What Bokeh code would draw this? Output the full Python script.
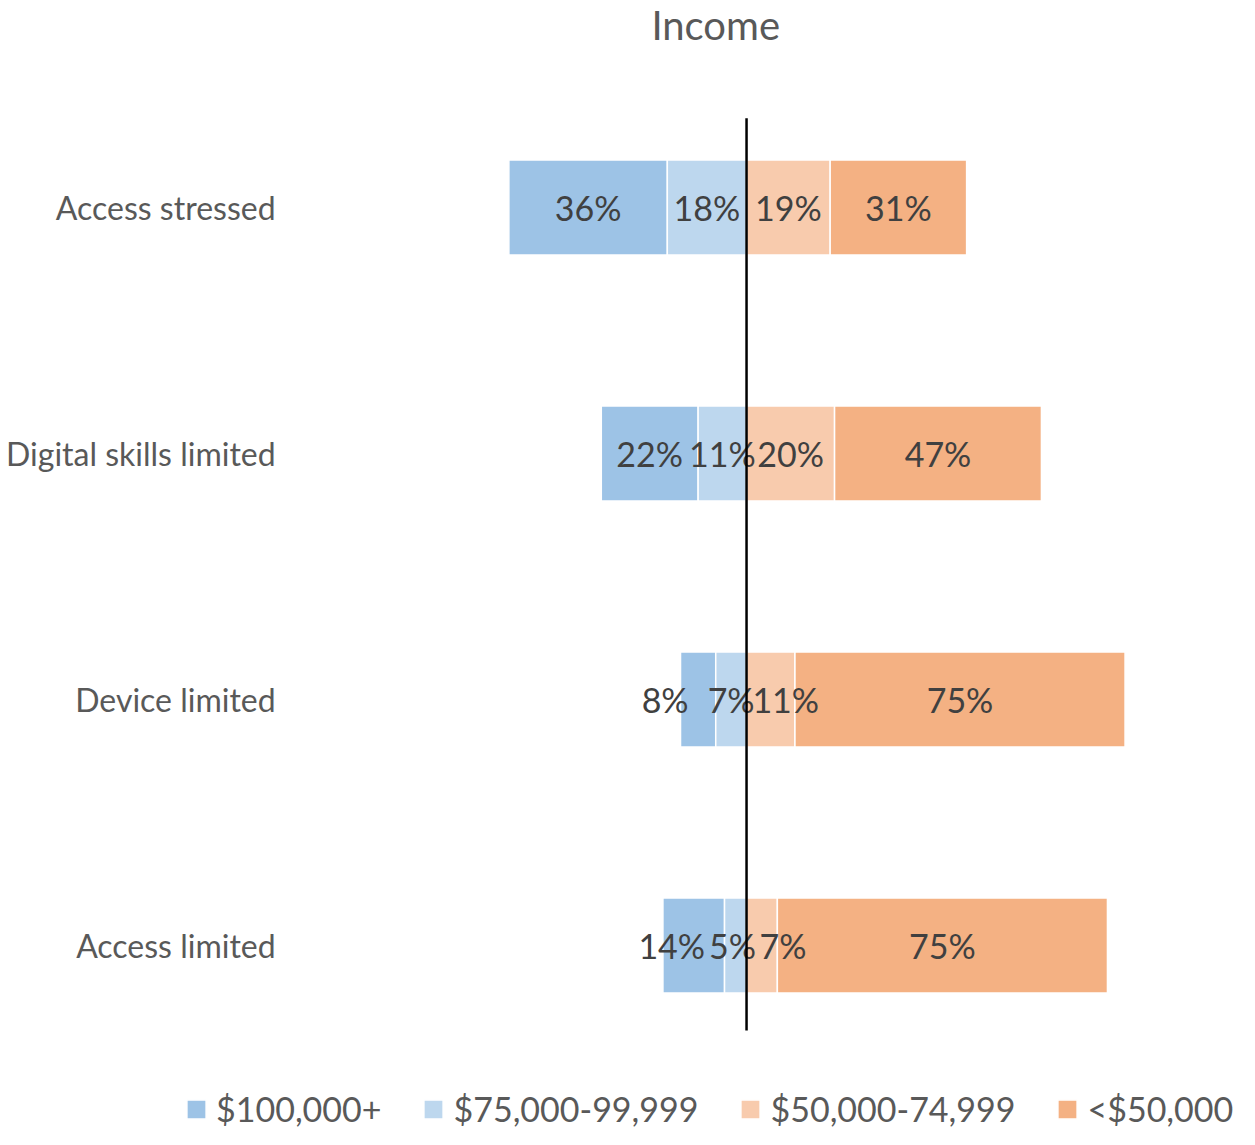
from bokeh.plotting import figure
from bokeh.models import Range1d, Label, Legend, LegendItem
from bokeh.core.properties import value
from bokeh.embed import file_html
from bokeh.resources import INLINE

# ---- data ----
categories = ["Access stressed", "Digital skills limited", "Device limited", "Access limited"]
series_names = ["$100,000+", "$75,000-99,999", "$50,000-74,999", "<$50,000"]
inc_100k_plus = [36, 22, 8, 14]
inc_75k_99k = [18, 11, 7, 5]
inc_50k_74k = [19, 20, 11, 7]
inc_under_50k = [31, 47, 75, 75]
chart_title = "Income"

# ---- style / layout ----
colors = ["#9DC3E6", "#BDD7EE", "#F8CBAD", "#F4B183"]
label_nudge_px = [[0, 0, -33, -22], [0, 0, 0, -3], [0, 0, 15, 21], [0, 0, 0, 0]]
FONT = "Lato"
CAT_LABEL_X = -107      # right edge of category labels (in % units)
TITLE_X, TITLE_Y = -7, 3.74
LINE_PAD_BOTTOM, LINE_PAD_TOP = 0.346, 0.362

n = len(categories)
ypos = [n - 1 - i for i in range(n)]

p = figure(width=1239, height=1129, output_backend="svg", toolbar_location=None,
           x_range=Range1d(-169.5, 112.0), y_range=Range1d(-0.748, 3.841),
           min_border=0)
p.outline_line_color = None
p.grid.visible = False
p.axis.visible = False

# segments
seg_left, seg_right = [], []
seg_left.append([-(a + b) for a, b in zip(inc_100k_plus, inc_75k_99k)])
seg_right.append([-b for b in inc_75k_99k])
seg_left.append([-b for b in inc_75k_99k])
seg_right.append([0 for _ in inc_75k_99k])
seg_left.append([0 for _ in inc_50k_74k])
seg_right.append(list(inc_50k_74k))
seg_left.append(list(inc_50k_74k))
seg_right.append([a + b for a, b in zip(inc_50k_74k, inc_under_50k)])
series_vals = [inc_100k_plus, inc_75k_99k, inc_50k_74k, inc_under_50k]

renderers = []
for k in range(4):
    r = p.hbar(y=ypos, left=seg_left[k], right=seg_right[k], height=0.386,
               fill_color=colors[k], line_color="white", line_width=1.5)
    renderers.append(r)

for k in range(4):
    centers = [(l + r) / 2 for l, r in zip(seg_left[k], seg_right[k])]
    p.text(x=centers, y=ypos, text=[f"{v}%" for v in series_vals[k]],
           x_offset=label_nudge_px[k], text_align="center", text_baseline="middle",
           text_font=value(FONT), text_font_size="34px", text_color="#404040")

# zero line
p.segment(x0=[0], y0=[min(ypos) - LINE_PAD_BOTTOM], x1=[0], y1=[max(ypos) + LINE_PAD_TOP],
          line_color="black", line_width=2.5)

# category labels
p.text(x=[CAT_LABEL_X] * n, y=ypos, text=categories, text_align="right", text_baseline="middle",
       text_font=value(FONT), text_font_size="32px", text_color="#595959")

p.add_layout(Label(x=TITLE_X, y=TITLE_Y, text=chart_title, text_align="center",
                   text_baseline="alphabetic", text_font=FONT, text_font_size="40px",
                   text_color="#595959"))

legend = Legend(items=[LegendItem(label=name, renderers=[r]) for name, r in zip(series_names, renderers)],
                orientation="horizontal", location=(184, 0), padding=0, margin=0,
                spacing=40, label_standoff=8, glyph_width=24, glyph_height=24, label_height=34,
                border_line_color=None, background_fill_alpha=0,
                label_text_font=FONT, label_text_font_size="34px", label_text_color="#595959")
p.add_layout(legend)

open("out.html", "w").write(file_html(p, INLINE))
